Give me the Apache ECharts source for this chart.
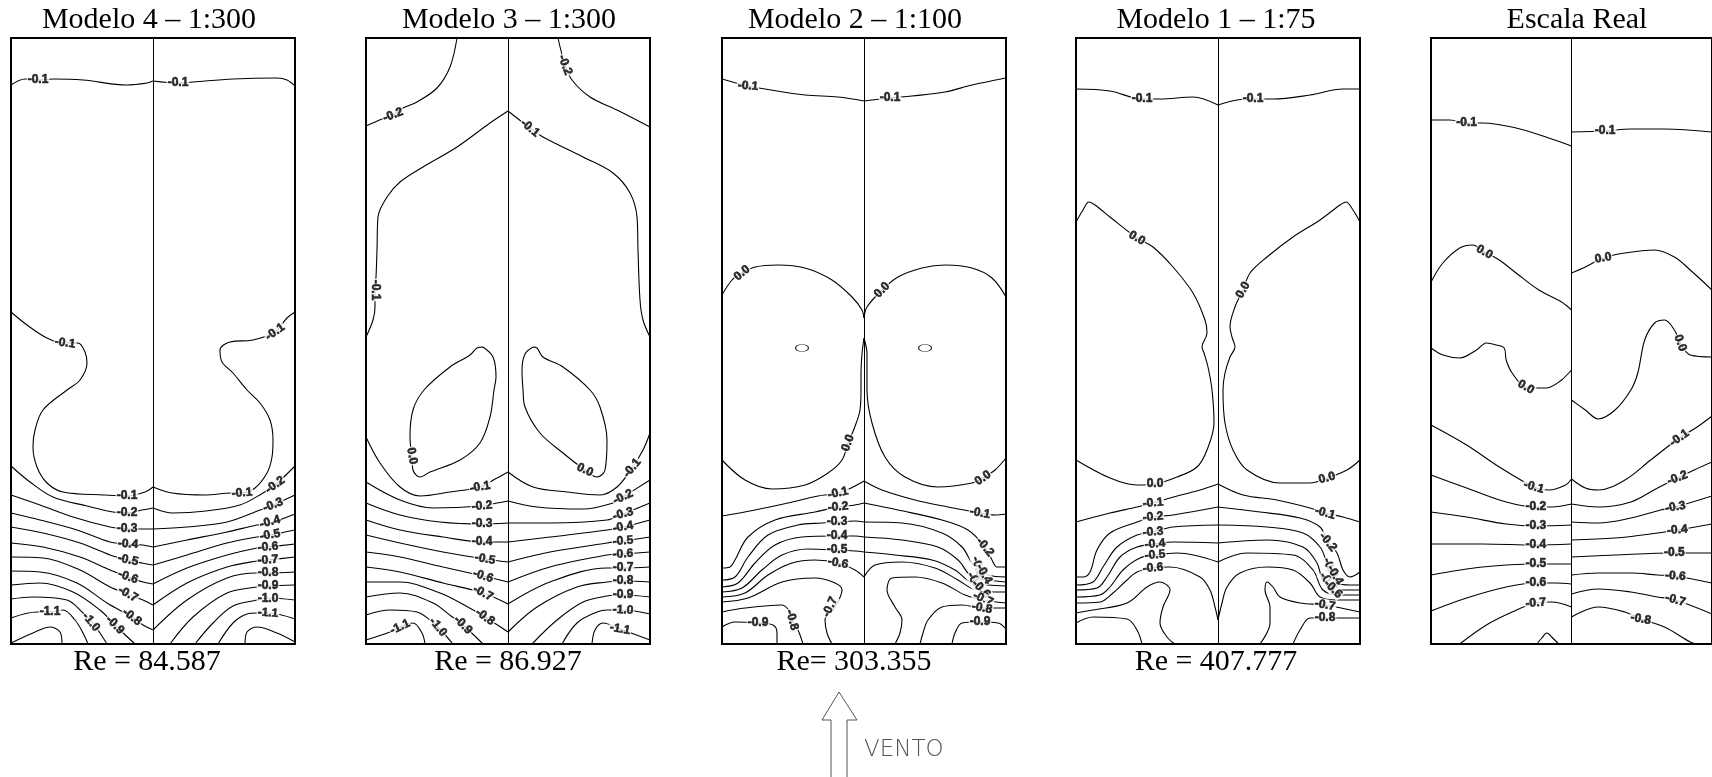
<!DOCTYPE html>
<html><head><meta charset="utf-8">
<script src="https://cdn.jsdelivr.net/npm/echarts@6/dist/echarts.min.js"></script>
<style>html,body{margin:0;padding:0;background:#fff}#c{width:1712px;height:777px}</style>
</head><body><div id="c"></div>
<script>
// Facade frame units: x 0..284 (width), y 0..606 (height, 0 = windward bottom edge)
const FACADE_W = 284, FACADE_H = 606, CENTER_X = 142;
const TITLES = ['Modelo 4 – 1:300','Modelo 3 – 1:300','Modelo 2 – 1:100','Modelo 1 – 1:75','Escala Real'];
const RE_LABELS = ['Re = 84.587','Re = 86.927','Re= 303.355','Re = 407.777',''];

// ---------- Modelo 4 ----------
const m4Lines = [
 [[0,559],[14,565],[27,564],[42,565],[72,564],[116,559],[136,561],[142,563]],
 [[142,563],[167,561],[182,562],[222,565],[266,566],[276,564],[284,558]],
 [[0,332],[16,319],[36,306],[52,301],[67,301],[74,292],[76,281],[69,264],[56,254],[32,234],[24,214],[22,197],[26,177],[36,161],[52,152],[94,149],[116,148],[134,152],[142,157]],
 [[142,157],[161,151],[194,149],[221,151],[231,151],[244,156],[256,171],[261,187],[262,204],[259,224],[249,241],[236,254],[222,271],[211,282],[209,294],[219,302],[242,304],[264,312],[276,326],[284,332]],
 [[0,178],[19,162],[42,147],[76,138],[102,132],[116,131],[131,134],[142,136]],
 [[142,136],[162,131],[195,133],[229,139],[252,151],[264,159],[284,178]],
 [[0,149],[29,139],[62,127],[99,117],[116,115],[131,115],[142,115]],
 [[142,115],[176,117],[216,122],[249,134],[262,139],[284,149]],
 [[0,131],[29,124],[66,114],[99,102],[117,100],[131,99],[142,97]],
 [[142,97],[176,104],[216,112],[246,119],[259,121],[284,130]],
 [[0,117],[32,111],[69,101],[99,89],[117,84],[131,81],[142,79]],
 [[142,79],[176,89],[216,101],[246,107],[259,109],[284,114]],
 [[0,101],[32,97],[69,87],[99,74],[117,67],[132,62],[142,60]],
 [[142,60],[176,76],[216,89],[246,96],[257,97],[284,100]],
 [[0,87],[32,86],[69,74],[99,57],[117,50],[132,44],[142,39]],
 [[142,39],[176,61],[216,77],[246,83],[257,84],[284,87]],
 [[0,73],[29,72],[66,61],[96,41],[121,27],[132,19],[142,14]],
 [[142,14],[176,44],[216,66],[246,71],[257,71],[284,72]],
 [[0,59],[29,61],[62,52],[89,34],[104,19],[109,14],[124,0]],
 [[159,0],[182,27],[216,51],[246,57],[257,58],[284,59]],
 [[0,45],[22,47],[56,44],[72,31],[82,21],[89,11],[96,0]],
 [[184,0],[202,21],[222,38],[246,44],[257,46],[284,44]],
 [[0,26],[26,32],[39,32],[52,34],[64,24],[72,11],[77,0]],
 [[207,0],[222,21],[236,30],[246,31],[257,31],[284,25]],
 [[0,1],[22,11],[39,17],[49,12],[51,0]],
 [[234,0],[236,12],[246,17],[266,11],[284,2]]
];
const m4Labels = [
 [27,564,'-0.1',0],[167,561,'-0.1',0],[54,301,'-0.1',-8],[116,148,'-0.1',0],[231,151,'-0.1',5],[264,312,'-0.1',35],
 [116,131,'-0.2',0],[116,115,'-0.3',0],[117,100,'-0.4',-5],[117,84,'-0.5',-12],[117,67,'-0.6',-20],[117,50,'-0.7',-30],
 [121,27,'-0.8',-38],[104,19,'-0.9',-45],[80,22,'-1.0',-50],[39,32,'-1.1',0],
 [264,159,'-0.2',35],[262,139,'-0.3',20],[259,122,'-0.4',15],[259,109,'-0.5',10],[257,97,'-0.6',5],[257,84,'-0.7',3],
 [257,71,'-0.8',0],[257,58,'-0.9',0],[257,45,'-1.0',0],[257,31,'-1.1',-5]
];

// ---------- Modelo 3 ----------
const m3Lines = [
 [[91,606],[84,577],[71,556],[51,542],[37,536],[27,529],[16,525],[0,518]],
 [[192,606],[199,579],[206,564],[224,547],[251,534],[284,517]],
 [[142,533],[124,521],[91,497],[57,477],[34,462],[21,447],[12,427],[11,394],[10,367],[9,354],[9,337],[7,324],[0,307]],
 [[142,533],[164,516],[177,507],[217,487],[247,471],[264,451],[271,427],[272,394],[274,344],[277,324],[284,307]],
 [[117,297],[127,287],[130,267],[128,254],[124,227],[114,201],[94,184],[64,172],[54,167],[47,174],[46,186],[44,207],[47,234],[58,254],[84,277],[104,289],[111,296],[117,297]],
 [[167,297],[159,290],[156,274],[157,254],[159,237],[174,211],[197,191],[219,174],[231,167],[239,174],[241,204],[234,237],[224,254],[197,277],[177,287],[171,296],[167,297]],
 [[0,207],[14,181],[34,157],[54,148],[84,152],[114,157],[131,166],[142,172]],
 [[142,172],[167,157],[201,152],[234,149],[251,157],[266,176],[277,194],[284,211]],
 [[0,162],[34,144],[67,136],[116,138],[131,141],[142,143]],
 [[142,143],[171,137],[217,135],[247,141],[257,147],[284,164]],
 [[0,141],[34,129],[74,122],[116,120],[142,121]],
 [[142,121],[184,121],[241,124],[257,130],[284,141]],
 [[0,124],[34,114],[77,107],[116,102],[142,102]],
 [[142,102],[184,107],[241,114],[257,117],[284,124]],
 [[0,109],[34,101],[77,92],[119,85],[142,82]],
 [[142,82],[184,92],[241,101],[257,103],[284,107]],
 [[0,92],[34,87],[77,77],[117,68],[142,62]],
 [[142,62],[184,77],[241,89],[257,90],[284,92]],
 [[0,77],[34,72],[77,61],[117,51],[142,40]],
 [[142,40],[184,62],[241,76],[257,76],[284,77]],
 [[0,62],[34,62],[74,51],[100,38],[119,27],[142,12]],
 [[142,12],[171,37],[211,57],[241,62],[257,63],[284,62]],
 [[0,47],[34,51],[67,41],[85,28],[97,19],[117,0]],
 [[166,0],[191,24],[217,42],[241,48],[257,49],[284,47]],
 [[0,29],[24,34],[51,32],[64,24],[72,17],[87,0]],
 [[196,0],[211,21],[231,32],[241,34],[257,34],[284,30]],
 [[0,4],[24,12],[34,17],[47,21],[56,11],[59,0]],
 [[226,0],[229,14],[237,21],[254,15],[284,4]]
];
const m3Labels = [
 [27,529,'-0.2',20],[199,579,'-0.2',-70],[164,516,'-0.1',-40],[9,354,'-0.1',-90],[46,188,'0.0',-80],[219,174,'0.0',-25],
 [114,157,'-0.1',10],[266,176,'-0.1',50],[116,138,'-0.2',5],[257,147,'-0.2',25],[116,120,'-0.3',0],[257,130,'-0.3',15],
 [116,102,'-0.4',0],[257,117,'-0.4',10],[119,85,'-0.5',-10],[257,103,'-0.5',5],[117,68,'-0.6',-18],[257,90,'-0.6',3],
 [117,51,'-0.7',-28],[257,76,'-0.7',0],[119,27,'-0.8',-35],[257,63,'-0.8',0],[97,19,'-0.9',-45],[257,49,'-0.9',0],
 [72,17,'-1.0',-50],[257,34,'-1.0',-3],[34,17,'-1.1',25],[254,15,'-1.1',-10]
];

// ---------- Modelo 2 ----------
const m2Lines = [
 [[0,565],[26,558],[43,555],[83,549],[116,547],[142,543]],
 [[142,543],[168,546],[190,548],[223,552],[250,559],[284,566]],
 [[0,349],[10,364],[20,371],[33,377],[56,379],[83,376],[110,364],[130,347],[140,334],[142,326]],
 [[142,326],[145,337],[160,354],[176,367],[200,376],[223,379],[250,376],[270,366],[284,347]],
 [[142,306],[140,290],[139,270],[139,254],[138,234],[132,215],[126,201],[120,184],[106,171],[83,159],[50,155],[23,164],[0,184]],
 [[142,306],[145,290],[145,277],[145,254],[150,221],[163,187],[183,167],[216,157],[250,161],[261,166],[273,174],[284,186]],
 [[0,128],[33,134],[66,141],[96,148],[116,151],[131,157],[142,163]],
 [[142,163],[160,154],[193,144],[226,137],[258,131],[273,129],[284,130]],
 [[142,141],[133,139],[116,137],[93,132],[53,124],[26,107],[13,84],[8,77],[0,76]],
 [[142,141],[176,134],[220,124],[246,114],[263,97],[270,84],[275,77],[284,77]],
 [[142,122],[133,123],[115,122],[100,121],[76,119],[46,109],[26,87],[13,67],[0,64]],
 [[142,122],[180,121],[220,111],[240,97],[250,81],[256,76],[266,69],[284,67]],
 [[142,107],[133,108],[115,108],[80,107],[53,99],[33,81],[16,61],[0,57]],
 [[142,107],[180,104],[216,97],[236,84],[250,67],[266,64],[284,62]],
 [[142,92],[133,93],[115,94],[86,95],[60,89],[40,74],[20,56],[0,52]],
 [[142,92],[173,89],[210,84],[233,74],[250,61],[266,59],[284,58]],
 [[142,67],[133,74],[116,81],[93,84],[70,81],[46,69],[23,51],[0,47]],
 [[142,67],[153,79],[180,82],[213,76],[236,64],[253,54],[270,52],[284,52]],
 [[0,42],[26,46],[60,62],[93,66],[113,61],[120,54],[113,37],[103,24],[105,11],[110,0]],
 [[284,41],[260,44],[243,49],[220,61],[193,67],[170,66],[165,54],[173,37],[180,24],[178,11],[173,0]],
 [[0,32],[23,36],[60,39],[68,32],[70,24],[76,14],[81,0]],
 [[284,36],[260,36],[240,39],[220,37],[206,24],[201,11],[198,0]],
 [[0,17],[13,22],[36,21],[51,19],[55,11],[55,0]],
 [[284,15],[276,21],[258,22],[240,21],[233,11],[230,0]]
];
const m2Ellipses = [[80,296],[203,296]];
const m2Labels = [
 [26,558,'-0.1',-5],[168,546,'-0.1',0],[20,371,'0.0',40],[160,354,'0.0',45],[126,201,'0.0',70],[261,166,'0.0',35],
 [116,151,'-0.1',12],[258,131,'-0.1',-10],[116,137,'-0.2',5],[263,97,'-0.2',-50],[115,122,'-0.3',0],[115,108,'-0.4',0],
 [115,94,'-0.5',0],[116,81,'-0.6',-10],[108,37,'-0.7',65],[70,24,'-0.8',-75],[36,21,'-0.9',0],
 [256,77,'-0.3',-75],[262,70,'-0.4',-60],[253,62,'-0.5',-60],[259,55,'-0.6',-45],[261,45,'-0.7',-25],[260,36,'-0.8',-10],[258,22,'-0.9',0]
];

// ---------- Modelo 1 ----------
const m1Lines = [
 [[0,555],[34,553],[66,545],[84,545],[117,547],[142,539]],
 [[142,539],[161,544],[177,545],[197,545],[234,549],[267,555],[284,555]],
 [[0,422],[7,434],[13,442],[19,439],[34,427],[61,406],[77,397],[97,377],[117,351],[129,324],[131,311],[126,297],[128,291],[132,277],[136,254],[138,221],[131,194],[121,177],[101,167],[79,160],[61,159],[34,166],[0,184]],
 [[284,422],[277,434],[270,442],[264,439],[244,424],[217,407],[191,387],[174,371],[167,354],[159,337],[154,317],[156,307],[159,297],[154,287],[149,271],[147,254],[149,221],[157,194],[171,174],[204,161],[234,161],[251,166],[271,174],[284,184]],
 [[0,122],[34,131],[61,137],[77,141],[94,146],[124,154],[142,160]],
 [[142,160],[167,149],[201,144],[234,136],[249,131],[267,127],[284,122]],
 [[142,137],[97,129],[77,127],[61,122],[34,111],[21,94],[14,72],[7,67],[0,67]],
 [[142,137],[184,132],[224,126],[244,117],[252,102],[261,91],[267,74],[274,67],[284,72]],
 [[142,119],[97,117],[77,112],[61,109],[41,97],[27,77],[17,62],[0,59]],
 [[142,119],[191,117],[227,111],[244,97],[251,81],[254,74],[261,61],[274,59],[284,59]],
 [[142,101],[97,102],[79,100],[61,97],[44,87],[31,67],[21,56],[0,54]],
 [[142,101],[191,104],[227,97],[241,81],[247,64],[261,54],[284,54]],
 [[142,82],[101,91],[79,89],[64,86],[47,74],[34,57],[24,49],[0,47]],
 [[142,82],[171,91],[217,89],[237,74],[247,54],[264,49],[284,49]],
 [[142,24],[139,37],[134,54],[124,67],[94,77],[77,76],[61,72],[51,64],[37,51],[24,42],[0,41]],
 [[142,24],[146,41],[151,57],[164,71],[191,77],[217,74],[234,61],[244,47],[261,44],[284,44]],
 [[0,31],[17,34],[51,41],[71,57],[84,62],[94,54],[87,37],[84,21],[91,7],[99,0]],
 [[284,32],[249,39],[224,41],[204,47],[197,57],[191,62],[189,54],[194,37],[194,21],[184,0]],
 [[0,21],[17,27],[51,25],[61,14],[66,0]],
 [[284,26],[249,26],[234,26],[224,14],[217,0]]
];
const m1Labels = [
 [66,545,'-0.1',0],[177,545,'-0.1',0],[61,406,'0.0',-30],[167,354,'0.0',60],[79,160,'0.0',0],[251,166,'0.0',15],
 [77,141,'-0.1',5],[249,131,'-0.1',-15],[77,127,'-0.2',5],[252,102,'-0.2',-50],[77,112,'-0.3',5],[79,100,'-0.4',5],
 [79,89,'-0.5',5],[77,76,'-0.6',5],
 [254,76,'-0.3',-70],[259,69,'-0.4',-60],[252,62,'-0.5',-55],[257,55,'-0.6',-45],[249,39,'-0.7',-10],[249,26,'-0.8',0]
];

// ---------- Escala Real ----------
const realLines = [
 [[0,524],[19,524],[36,521],[52,521],[86,516],[119,506],[142,498]],
 [[142,512],[176,513],[202,515],[236,515],[284,512]],
 [[0,362],[12,381],[29,396],[42,399],[54,392],[69,384],[86,371],[109,354],[132,342],[142,334]],
 [[142,371],[156,377],[174,386],[196,391],[226,394],[246,387],[262,374],[284,354]],
 [[0,296],[12,289],[29,286],[46,294],[56,301],[66,299],[74,296],[76,284],[82,271],[96,257],[116,256],[132,264],[142,274]],
 [[142,244],[156,234],[169,225],[186,234],[202,254],[209,271],[216,304],[226,321],[236,324],[246,314],[252,301],[262,289],[284,287]],
 [[0,219],[36,199],[69,177],[104,157],[119,154],[136,159],[142,165]],
 [[142,165],[156,156],[169,154],[196,164],[222,184],[251,206],[269,217],[284,228]],
 [[0,169],[36,156],[76,142],[106,137],[122,137],[142,140]],
 [[142,140],[169,137],[202,142],[229,156],[249,166],[266,174],[284,182]],
 [[0,132],[36,127],[76,120],[106,118],[142,119]],
 [[142,122],[169,121],[202,126],[232,134],[247,137],[284,148]],
 [[0,100],[52,100],[106,99],[142,100]],
 [[142,104],[186,106],[229,111],[249,114],[284,120]],
 [[0,69],[52,77],[106,80],[142,80]],
 [[142,87],[186,89],[246,91],[284,91]],
 [[0,33],[36,46],[76,57],[106,61],[126,61],[142,60]],
 [[142,69],[169,71],[202,71],[229,69],[247,68],[284,61]],
 [[29,0],[56,19],[82,32],[106,41],[122,42],[142,37]],
 [[142,50],[169,55],[202,52],[229,47],[247,44],[284,30]],
 [[142,27],[169,37],[196,32],[212,25],[236,17],[262,2],[268,0]],
 [[107,0],[112,6],[117,11],[123,6],[129,0]]
];
const realLabels = [
 [36,521,'-0.1',0],[176,513,'-0.1',0],[54,392,'0.0',-30],[174,386,'0.0',10],[96,257,'0.0',-30],[252,301,'0.0',-70],
 [104,157,'-0.1',-15],[251,206,'-0.1',35],[106,137,'-0.2',0],[249,166,'-0.2',20],[106,118,'-0.3',0],[247,137,'-0.3',10],
 [106,99,'-0.4',0],[249,114,'-0.4',5],[106,80,'-0.5',0],[246,91,'-0.5',0],[106,61,'-0.6',0],[247,68,'-0.6',-5],
 [106,41,'-0.7',5],[247,44,'-0.7',-15],[212,25,'-0.8',-10]
];

// ---------- layout ----------
const GRID_LEFT = [11, 366, 722, 1076, 1431];
const TITLE_X = [149, 509, 855, 1216, 1577];
const RE_X = [147, 508, 854, 1216, 0];
const panels = [
 {lines:m4Lines, labels:m4Labels, ellipses:[]},
 {lines:m3Lines, labels:m3Labels, ellipses:[]},
 {lines:m2Lines, labels:m2Labels, ellipses:m2Ellipses},
 {lines:m1Lines, labels:m1Labels, ellipses:[]},
 {lines:realLines, labels:realLabels, ellipses:[]}
];

const grid = [], xAxis = [], yAxis = [], series = [], graphic = [];
panels.forEach((p, i) => {
  grid.push({left:GRID_LEFT[i], top:38, width:FACADE_W, height:FACADE_H, show:true,
             borderColor:'#000', borderWidth:2, backgroundColor:'transparent'});
  xAxis.push({gridIndex:i, type:'value', min:0, max:FACADE_W, show:false});
  yAxis.push({gridIndex:i, type:'value', min:0, max:FACADE_H, show:false});
  p.lines.forEach(line => series.push({
    type:'line', xAxisIndex:i, yAxisIndex:i, data:line, smooth:0.35, symbol:'none', showSymbol:false,
    silent:true, clip:true, z:2, lineStyle:{color:'#000', width:1.1}
  }));
  if (p.ellipses.length) series.push({
    type:'scatter', xAxisIndex:i, yAxisIndex:i, data:p.ellipses, symbol:'circle', symbolSize:[13,7], z:3, silent:true,
    itemStyle:{color:'#fff', borderColor:'#000', borderWidth:1}
  });
  series.push({
    type:'scatter', xAxisIndex:i, yAxisIndex:i, symbolSize:0, z:5, silent:true,
    data:p.labels.map(l => ({value:[l[0], l[1]], label:{formatter:l[2], rotate:l[3]}})),
    label:{show:true, position:'inside', fontFamily:'Liberation Sans', fontWeight:'bold',
           fontSize:12, color:'#000', textBorderColor:'#000', textBorderWidth:0.6,
           backgroundColor:'#fff', padding:[0,1], lineHeight:12},
    markLine:{silent:true, symbol:['none','none'], label:{show:false}, animation:false,
              lineStyle:{color:'#000', width:1, type:'solid'}, data:[{xAxis:CENTER_X}]}
  });
  graphic.push({type:'text', x:TITLE_X[i], y:20, silent:true,
    style:{text:TITLES[i], font:'30px "Liberation Serif", "Times New Roman", serif', fill:'#000',
           textAlign:'center', textVerticalAlign:'middle', align:'center', verticalAlign:'middle'}});
  if (RE_LABELS[i]) graphic.push({type:'text', x:RE_X[i], y:662, silent:true,
    style:{text:RE_LABELS[i], font:'30px "Liberation Serif", "Times New Roman", serif', fill:'#000',
           textAlign:'center', textVerticalAlign:'middle', align:'center', verticalAlign:'middle'}});
});

// wind arrow
graphic.push({type:'polygon', silent:true,
  shape:{points:[[839,692],[857,720],[847,720],[847,780],[831,780],[831,720],[822,720]]},
  style:{fill:'#fff', stroke:'#555', lineWidth:1}});
graphic.push({type:'text', x:864, y:750, silent:true,
  style:{text:'VENTO', font:'300 23px "DejaVu Sans", sans-serif', fill:'#555',
         textAlign:'left', textVerticalAlign:'middle', align:'left', verticalAlign:'middle'}});

const chart = echarts.init(document.getElementById('c'), null, {renderer:'canvas'});
chart.setOption({animation:false, backgroundColor:'#fff', grid, xAxis, yAxis, series, graphic});
</script></body></html>
